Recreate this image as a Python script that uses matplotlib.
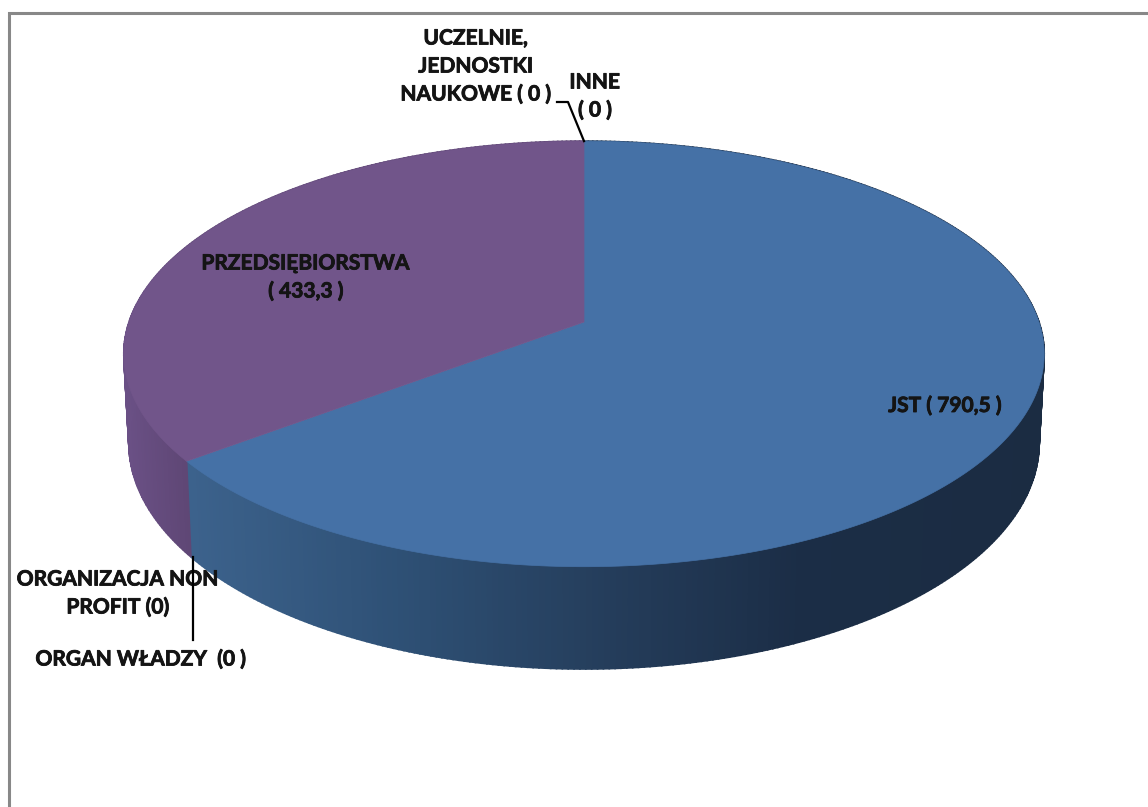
import numpy as np
import matplotlib
matplotlib.use("Agg")
import matplotlib.pyplot as plt
import matplotlib.patheffects as pe
from matplotlib.patches import Polygon

# Data, clockwise from the top of the pie
categories = ["JST", "ORGAN WŁADZY", "ORGANIZACJA NON PROFIT", "PRZEDSIĘBIORSTWA", "UCZELNIE, JEDNOSTKI NAUKOWE", "INNE"]
values = [790.5, 0, 0, 433.3, 0, 0]
labels = {
    "JST": ("JST ( 790,5 )", 945, 406),
    "PRZEDSIĘBIORSTWA": ("PRZEDSIĘBIORSTWA\n( 433,3 )", 306, 277.5),
    "ORGANIZACJA NON PROFIT": ("ORGANIZACJA NON\nPROFIT (0)", 118, 593.5),
    "ORGAN WŁADZY": ("ORGAN WŁADZY  (0 )", 141, 659.5),
    "UCZELNIE, JEDNOSTKI NAUKOWE": ("UCZELNIE,\nJEDNOSTKI\nNAUKOWE ( 0 )", 476, 66.5),
    "INNE": ("INNE\n( 0 )", 595, 96.5),
}

# Styles
top_colors = {"JST": "#4571a6", "PRZEDSIĘBIORSTWA": "#71558a"}
side_stops = {
    "JST": ([190, 400, 600, 800, 1045],
            [(60, 98, 140), (46, 80, 117), (37, 62, 92), (27, 45, 70), (27, 44, 66)]),
    "PRZEDSIĘBIORSTWA": ([125, 190],
                         [(106, 80, 133), (94, 70, 116)]),
}
CX, K = 584, 0.15
TOP = dict(b=455, a=208, y0=322)
BOTTOM = dict(b=450, a=221, y0=409)


def project(theta, plane, r=1.0):
    """Clockwise angle from the top of the pie -> perspective screen position."""
    u, v = r * np.sin(theta), r * np.cos(theta)
    d = 1 + K * v
    return CX + plane["b"] * u / d, plane["y0"] - plane["a"] * v / d


def side_color(name, x):
    xs, cols = side_stops[name]
    return tuple(np.interp(x, xs, [c[i] for c in cols]) / 255 for i in range(3))


fig = plt.figure(figsize=(11.48, 8.07), dpi=100, facecolor="white")
ax = fig.add_axes([0, 0, 1, 1])
ax.set_xlim(0, 1148)
ax.set_ylim(807, 0)
ax.axis("off")

# Chart frame, cut by the image at right and bottom
ax.plot([8.5, 8.5, 1148], [807, 12.5, 12.5], color="#888888", lw=2.2,
        solid_joinstyle="miter", zorder=1)

edges = np.cumsum([0] + values) / sum(values) * 2 * np.pi

# Side walls, then the top faces
for name, start, end in zip(categories, edges[:-1], edges[1:]):
    if end <= start:
        continue
    th = np.linspace(start, end, int((end - start) * 90) + 2)
    for t0, t1 in zip(th[:-1], th[1:]):
        x0, y0 = project(t0, TOP)
        x1, y1 = project(t1, TOP)
        x2, y2 = project(t1, BOTTOM)
        x3, y3 = project(t0, BOTTOM)
        col = side_color(name, (x0 + x1) / 2)
        ax.add_patch(Polygon([(x0, y0), (x1, y1), (x2, y2), (x3, y3)],
                             fc=col, ec=col, lw=1.2, zorder=2))
for name, start, end in zip(categories, edges[:-1], edges[1:]):
    if end <= start:
        continue
    th = np.linspace(start, end, 400)
    xs, ys = project(th, TOP)
    cx, cy = project(0.0, TOP, r=0.0)
    ax.add_patch(Polygon(np.vstack([[cx, cy], np.column_stack([xs, ys])]),
                         fc=top_colors[name], ec=top_colors[name], lw=0.5, zorder=3))

# Leader lines from the zero-value slices
boundary = edges[1]
lx, ly = project(boundary, BOTTOM)
ax.plot([lx + 2, lx + 2], [ly, 640], color="black", lw=1.6, zorder=6)
ux, uy = project(0.0, TOP)
ax.plot([ux, 568, 557], [uy, 102, 102], color="black", lw=1.6, zorder=6)

# Labels
for name in categories:
    text, x, y = labels[name]
    ax.text(x, y, text, ha="center", va="center", family="Lato", weight="bold",
            fontsize=15.1, color="#141414", linespacing=1.5, zorder=5,
            path_effects=[pe.withStroke(linewidth=0.6, foreground="#141414")])

fig.savefig("out.png", dpi=100, facecolor="white")
